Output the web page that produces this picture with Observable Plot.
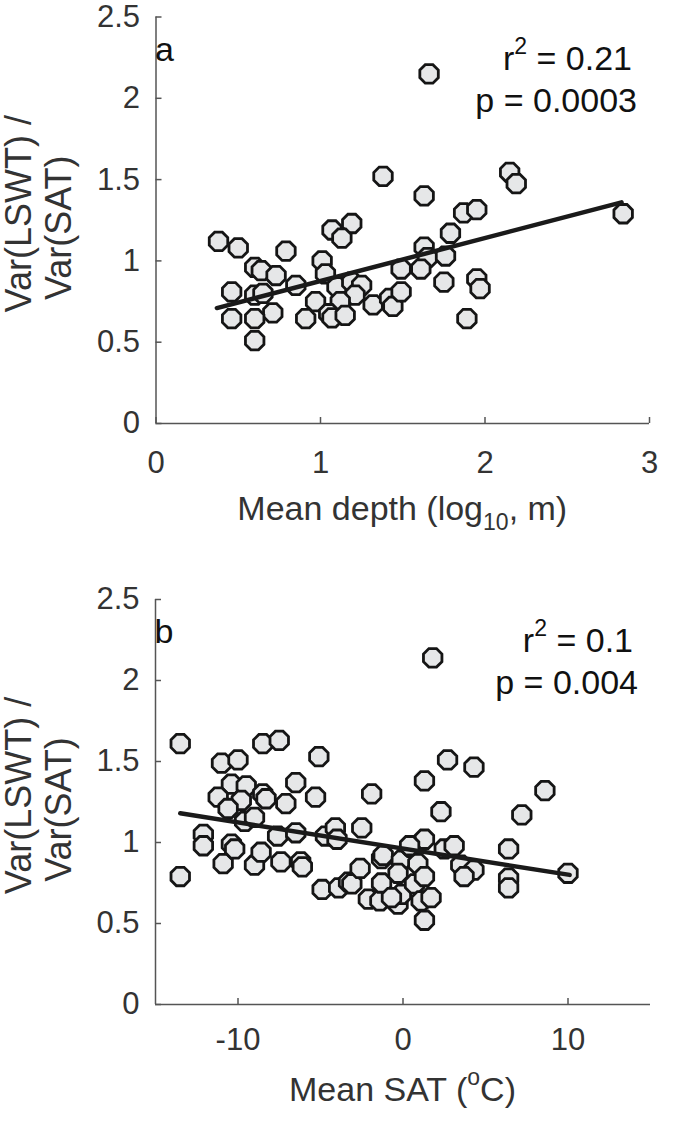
<!DOCTYPE html>
<html><head><meta charset="utf-8">
<script src="https://cdn.jsdelivr.net/npm/d3@7"></script>
<script src="https://cdn.jsdelivr.net/npm/@observablehq/plot@0.6"></script>
<style>
body{margin:0;background:#fff;}
svg{display:block;}
</style></head><body><div id="chart"></div>
<script>
// Panel a: mean depth (log10 m) vs Var(LSWT)/Var(SAT)
const depthLog = [0.38,0.50,0.79,1.07,1.19,1.13,0.60,0.64,0.73,1.01,1.03,0.46,0.60,0.65,0.85,1.10,1.19,1.25,1.21,0.97,1.12,0.71,0.46,0.60,0.91,1.05,1.07,1.15,1.32,1.42,1.44,1.49,1.49,0.60,1.38,1.66,2.15,2.19,1.87,1.95,1.63,1.79,1.63,1.65,1.76,1.61,1.75,1.95,1.97,1.89,2.84];
const depthRatio = [1.12,1.08,1.06,1.19,1.23,1.14,0.96,0.94,0.91,1.00,0.92,0.81,0.79,0.80,0.85,0.84,0.87,0.85,0.79,0.75,0.75,0.68,0.645,0.645,0.645,0.675,0.65,0.665,0.73,0.77,0.72,0.81,0.95,0.51,1.52,2.15,1.545,1.475,1.295,1.315,1.40,1.17,1.085,1.02,1.03,0.95,0.87,0.89,0.83,0.645,1.29];
// Panel b: mean SAT (°C) vs Var(LSWT)/Var(SAT)
const satMean = [-13.5,-11.0,-10.0,-8.5,-7.5,-5.1,-10.4,-9.5,-6.5,-8.5,-8.3,-11.2,-9.8,-10.6,-9.6,-9.0,-7.1,-5.3,-1.9,
 -12.1,-12.1,-10.9,-10.4,-10.2,-9.0,-8.6,-7.4,-6.2,-6.1,-7.6,-6.5,-4.7,-4.1,-4.0,-2.5,-13.5,-4.9,-3.9,-3.3,-3.1,-2.6,-2.1,-1.4,-1.3,-1.3,-1.2,-0.3,-0.1,-0.1,-0.3,-0.7,0.5,0.9,0.7,1.3,1.1,1.7,1.3,1.3,0.4,
 1.8,2.7,4.3,1.3,8.6,2.3,2.5,3.1,3.5,4.3,3.7,6.4,6.4,6.4,7.2,10.0];
const satRatio = [1.61,1.49,1.51,1.61,1.63,1.53,1.36,1.35,1.37,1.30,1.27,1.28,1.26,1.21,1.13,1.155,1.24,1.28,1.30,
 1.05,0.98,0.87,0.99,0.96,0.86,0.94,0.88,0.88,0.85,1.04,1.06,1.04,1.09,1.02,1.09,0.79,0.71,0.72,0.755,0.745,0.84,0.65,0.64,0.90,0.75,0.92,0.62,0.68,0.89,0.81,0.66,0.97,0.87,0.745,0.79,0.64,0.66,0.52,1.02,0.98,
 2.14,1.51,1.465,1.38,1.32,1.19,0.96,0.98,0.86,0.83,0.79,0.96,0.78,0.72,1.17,0.81];
// Fitted regression lines (end points)
const fitAx = [0.37, 2.83], fitAy = [0.71, 1.36];
const fitBx = [-13.5, 10.1], fitBy = [1.18, 0.80];
// Ticks and annotations
const yTicks = [0, 0.5, 1, 1.5, 2, 2.5];
const xTicksA = [0, 1, 2, 3];
const xTicksB = [-10, 0, 10];
const panelLetters = ["a", "b"];
const r2Values = ["0.21", "0.1"];
const pValues = ["0.0003", "0.004"];

const FONT = "'Liberation Sans', Arial, Helvetica, sans-serif";
const TICK_FS = 31, LABEL_FS = 34;
const octagon = {draw(ctx, size) {
  const r = Math.sqrt(size / Math.PI);
  for (let i = 0; i < 8; i++) {
    const a = (i + 0.5) * Math.PI / 4;
    const px = r * Math.cos(a), py = r * Math.sin(a);
    if (i) ctx.lineTo(px, py); else ctx.moveTo(px, py);
  }
  ctx.closePath();
}};

function panel(o) {
  const pts = o.xs.map((x, i) => ({x, y: o.ys[i]}));
  const fit = o.fx.map((x, i) => ({x, y: o.fy[i]}));
  const chart = Plot.plot({
    width: 675, height: o.height,
    marginTop: o.mt, marginBottom: o.mb, marginLeft: o.ml, marginRight: o.mr,
    style: {fontFamily: FONT, fontSize: TICK_FS + "px", color: "#333", background: "#fff", overflow: "visible"},
    x: {domain: o.xDomain},
    y: {domain: [0, 2.5]},
    marks: [
      Plot.ruleX([o.xDomain[0]], {stroke: "#555", strokeWidth: 1.5}),
      Plot.ruleY([0], {stroke: "#555", strokeWidth: 1.5}),
      Plot.axisX({ticks: o.xTicks, tickSize: -6, tickPadding: o.xPad, stroke: "#555", strokeWidth: 1.5, fill: "#333", label: null, tickFormat: d => String(d)}),
      Plot.axisY({ticks: yTicks, tickSize: -6, tickPadding: 22, stroke: "#555", strokeWidth: 1.5, fill: "#333", label: null, tickFormat: d => String(d)}),
      Plot.dot(pts, {x: "x", y: "y", r: 10, symbol: octagon, fill: "#e6e7e8", stroke: "#151515", strokeWidth: 2.8}),
      Plot.line(fit, {x: "x", y: "y", stroke: "#1a1a1a", strokeWidth: 4.5})
    ]
  });
  const X = chart.scale("x"), Y = chart.scale("y");
  const left = X.range[0], right = X.range[1];
  const bottom = Y.range[0], top = Y.range[1];
  const cy = (top + bottom) / 2;
  const svg = d3.select(chart);
  const g = svg.append("g").attr("font-family", FONT).attr("font-size", LABEL_FS);
  // panel letter
  g.append("text").attr("x", left + 9).attr("y", top + 44).attr("fill", "#111").text(o.letter);
  // r^2
  const t1 = g.append("text").attr("x", right - 17).attr("y", top + 53).attr("text-anchor", "end").attr("fill", "#111");
  t1.append("tspan").text("r");
  t1.append("tspan").attr("font-size", 23).attr("dy", -16).text("2");
  t1.append("tspan").attr("dy", 16).text(" = " + o.r2);
  g.append("text").attr("x", right - 12).attr("y", top + 95).attr("text-anchor", "end").attr("fill", "#111").text("p = " + o.p);
  // y label (two lines)
  g.append("text").attr("transform", `translate(31,${cy - 6}) rotate(-90)`).attr("text-anchor", "middle").attr("font-size", 36).attr("fill", "#333").text("Var(LSWT) /");
  g.append("text").attr("transform", `translate(71,${cy + 8}) rotate(-90)`).attr("text-anchor", "middle").attr("font-size", 36).attr("fill", "#333").text("Var(SAT)");
  // x label
  const xl = g.append("text").attr("x", (left + right) / 2).attr("y", bottom + 97).attr("text-anchor", "middle").attr("fill", "#333");
  o.xlabel(xl);
  return chart;
}

const root = document.getElementById("chart");
root.appendChild(panel({
  xs: depthLog, ys: depthRatio, fx: fitAx, fy: fitAy,
  xDomain: [0, 3], xTicks: xTicksA, xPad: 33,
  height: 562, mt: 16.5, mb: 139, ml: 155.5, mr: 26,
  letter: panelLetters[0], r2: r2Values[0], p: pValues[0],
  xlabel: t => {
    t.append("tspan").text("Mean depth (log");
    t.append("tspan").attr("font-size", 23).attr("dy", 10).text("10");
    t.append("tspan").attr("dy", -10).text(", m)");
  }
}));
root.appendChild(panel({
  xs: satMean, ys: satRatio, fx: fitBx, fy: fitBy,
  xDomain: [-15, 15], xTicks: xTicksB, xPad: 29,
  height: 562, mt: 37, mb: 120, ml: 155, mr: 25,
  letter: panelLetters[1], r2: r2Values[1], p: pValues[1],
  xlabel: t => {
    t.append("tspan").text("Mean SAT (");
    t.append("tspan").attr("font-size", 23).attr("dy", -16).text("o");
    t.append("tspan").attr("dy", 16).text("C)");
  }
}));
</script></body></html>
